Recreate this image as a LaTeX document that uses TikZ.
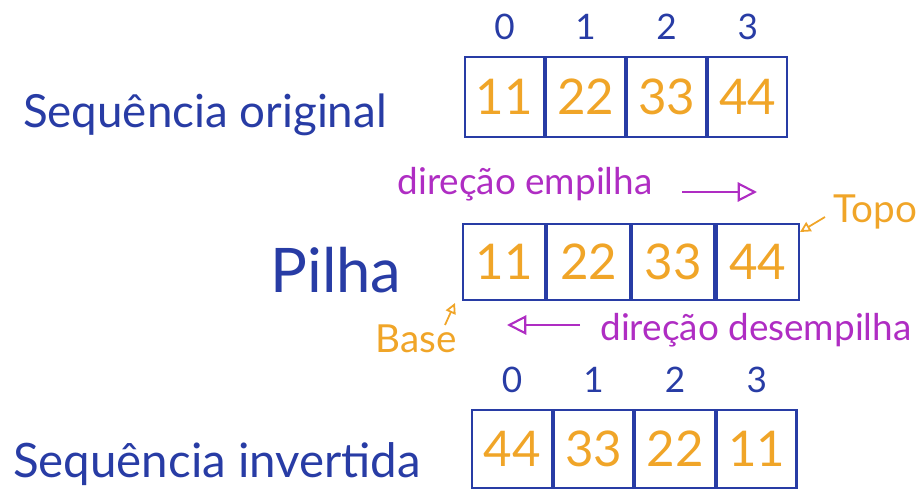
\documentclass[tikz,border=0pt]{standalone}
\usepackage{fontspec}
\setmainfont{Lato}
\usetikzlibrary{arrows.meta,positioning}
\definecolor{penblue}{RGB}{40,60,165}
\definecolor{inkorange}{RGB}{240,165,40}
\definecolor{inkpurple}{RGB}{175,45,195}

\begin{document}
\begin{tikzpicture}[x=0.02cm, y=-0.02cm,
        cell/.style={rectangle, draw=penblue, line width=1.2pt, minimum width=1.58cm, minimum height=1.6cm, text=inkorange, font=\fontsize{28}{30}\selectfont},
        stackcell/.style={cell, minimum width=1.65cm, minimum height=1.52cm},
        idx/.style={inner sep=0pt, text=penblue, font=\fontsize{20}{22}\selectfont},
        bigtxt/.style={inner sep=0pt, text=penblue, font=\fontsize{26}{28}\selectfont},
        note/.style={inner sep=0pt, text=inkpurple, font=\fontsize{21}{24}\selectfont},
        tagtxt/.style={inner sep=0pt, text=inkorange, font=\fontsize{22}{24}\selectfont},
        arr/.style={-{Triangle[open, length=11pt, width=11pt]}, line width=1.2pt, inkpurple},
        ptr/.style={-{Triangle[open, length=6pt, width=6pt]}, line width=1pt, inkorange}
    ]
        \useasboundingbox (0,0) rectangle (921,500);

        % Original sequence
        \node[bigtxt, anchor=base] (origtxt) at (205,128) {Sequência original};
        \node[cell] (o1) at (504.5,97) {11};
        \node[cell, right=0pt of o1] (o2) {22};
        \node[cell, right=0pt of o2] (o3) {33};
        \node[cell, right=0pt of o3] (o4) {44};
        \node[idx, above=9pt of o1] (io0) {0};
        \node[idx, above=9pt of o2] (io1) {1};
        \node[idx, above=9pt of o3] (io2) {2};
        \node[idx, above=9pt of o4] (io3) {3};

        % Stack
        \node[note, anchor=base] (pushtxt) at (525,195) {direção empilha};
        \coordinate (pushA) at (682,192);
        \coordinate (pushB) at (757,192);
        \draw[arr] (pushA) -- (pushB);

        \node[bigtxt, anchor=base, font=\fontsize{35}{37}\selectfont] (pilhatxt) at (336,293) {Pilha};
        \node[stackcell] (p1) at (504,262) {11};
        \node[stackcell, right=0pt of p1] (p2) {22};
        \node[stackcell, right=0pt of p2] (p3) {33};
        \node[stackcell, right=0pt of p3] (p4) {44};

        \node[tagtxt, anchor=base west] (topo) at (833,223) {Topo};
        \coordinate (topofrom) at (825,217);
        \coordinate (topotip) at (800,232);
        \draw[ptr] (topofrom) -- (topotip);

        \node[tagtxt, anchor=base west] (base) at (375,353) {Base};
        \coordinate (basefrom) at (445,325);
        \coordinate (basetip) at (455,303);
        \draw[ptr] (basefrom) -- (basetip);

        \coordinate (popA) at (580,325);
        \coordinate (popB) at (507,325);
        \draw[arr] (popA) -- (popB);
        \node[note, anchor=base west] (poptxt) at (600,340) {direção desempilha};

        % Reversed sequence
        \node[bigtxt, anchor=base, font=\fontsize{27}{29}\selectfont] (invtxt) at (217,478) {Sequência invertida};
        \node[cell, minimum height=1.56cm, minimum width=1.59cm] (i1) at (512,449) {44};
        \node[cell, minimum height=1.56cm, minimum width=1.59cm, right=0pt of i1] (i2) {33};
        \node[cell, minimum height=1.56cm, minimum width=1.59cm, right=0pt of i2] (i3) {22};
        \node[cell, minimum height=1.56cm, minimum width=1.59cm, right=0pt of i3] (i4) {11};
        \node[idx, above=9pt of i1] (ii0) {0};
        \node[idx, above=9pt of i2] (ii1) {1};
        \node[idx, above=9pt of i3] (ii2) {2};
        \node[idx, above=9pt of i4] (ii3) {3};
    \end{tikzpicture}
\end{document}
